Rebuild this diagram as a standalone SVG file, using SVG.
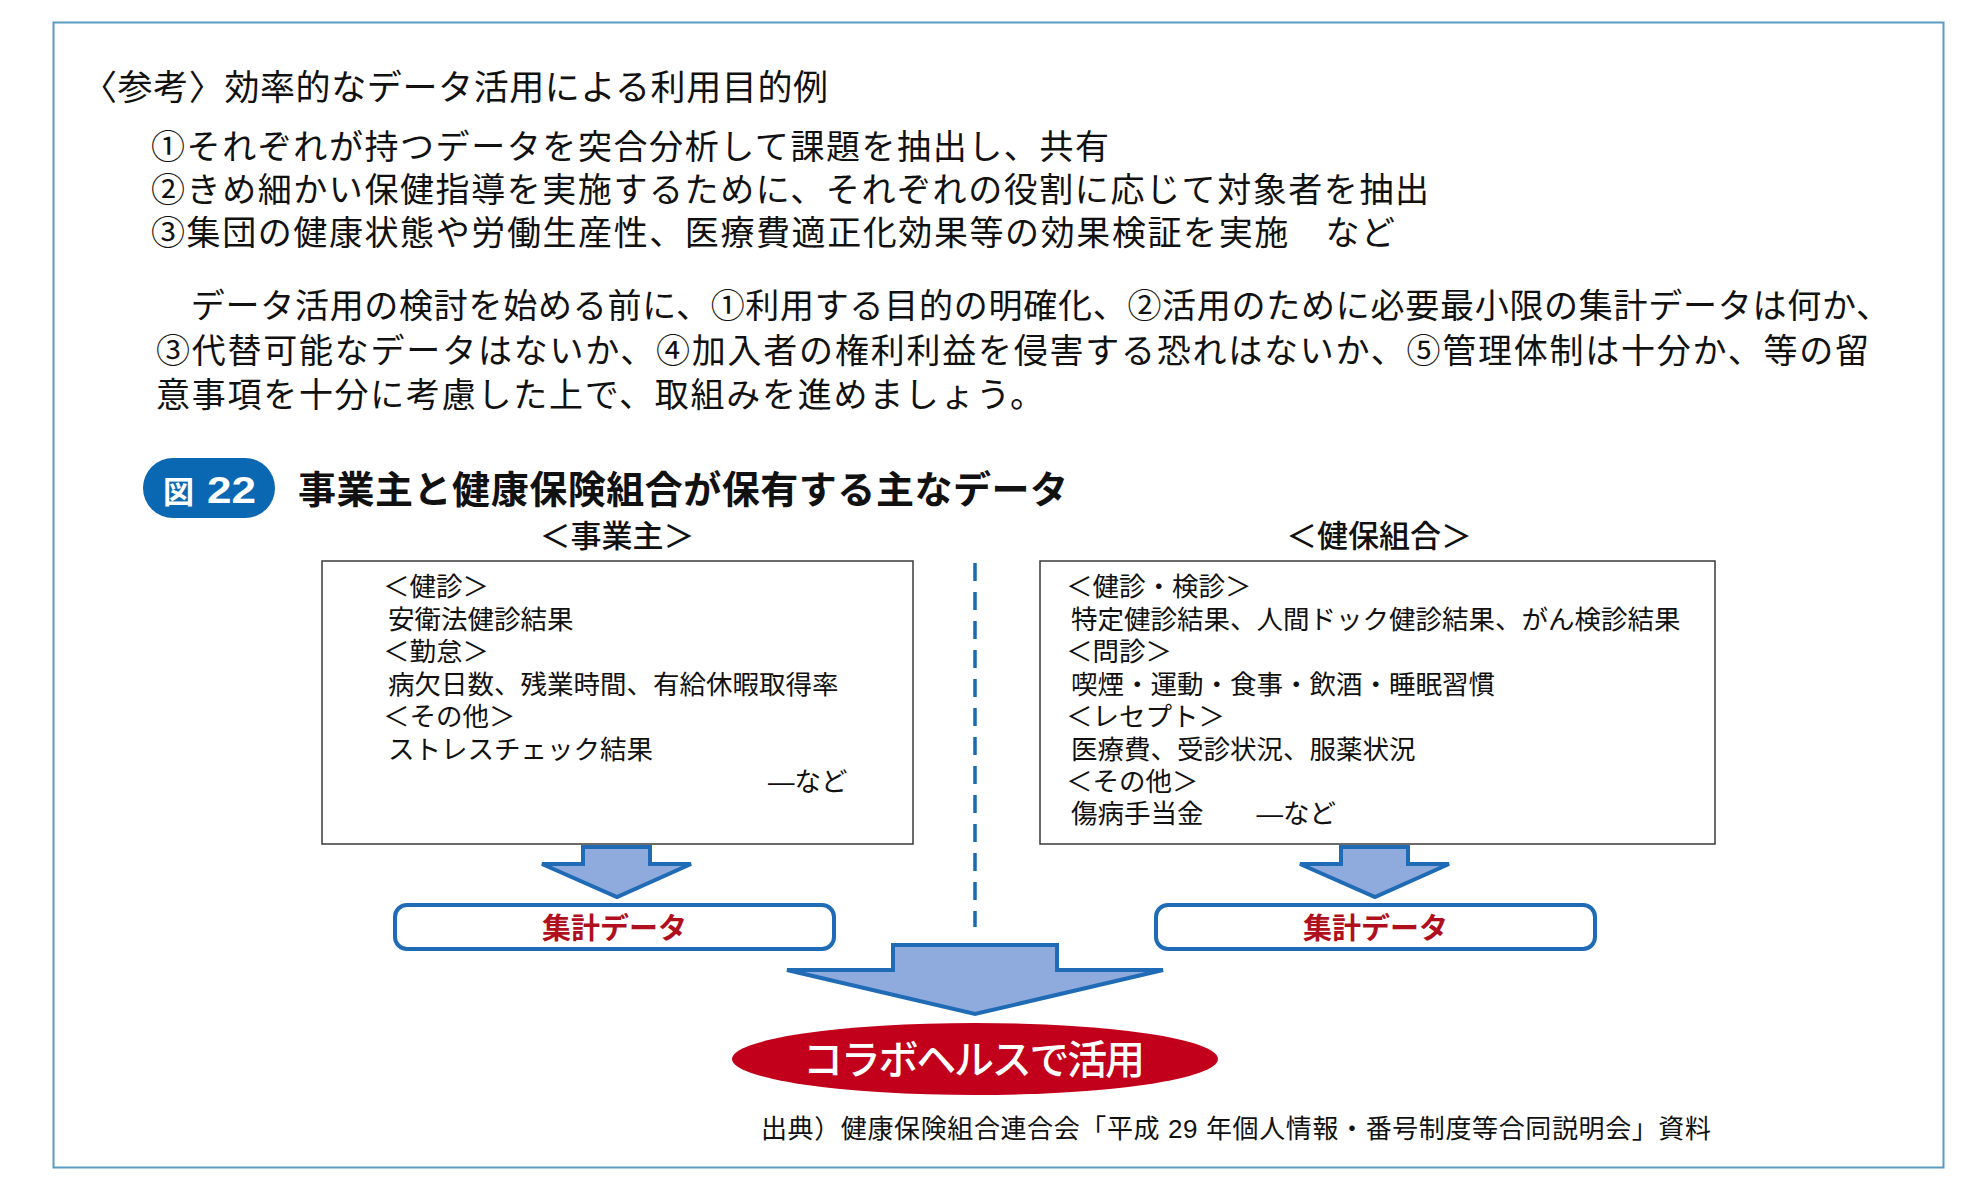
<svg xmlns="http://www.w3.org/2000/svg" width="1975" height="1188" viewBox="0 0 1975 1188">
<defs>
<style>
text{font-family:'Liberation Sans','Noto Sans CJK JP',sans-serif;fill:#111;}
.t34{font-size:34px;}
.t35{font-size:35px;}
.box{fill:#fff;stroke:#3a3a3a;stroke-width:1.5;}
.bt{font-size:26.5px;}
.hd{font-size:31px;font-weight:500;}
.agg{fill:#fff;stroke:#1f6bb5;stroke-width:4;}
.aggt{font-size:29px;font-weight:bold;fill:#b0101e;}
.arr{fill:#8faadc;stroke:#1f6bb5;stroke-width:4;stroke-linejoin:miter;}
</style>
</defs>
<rect width="1975" height="1188" fill="#fff"/>
<rect x="53.5" y="22.5" width="1890" height="1145" fill="#fff" stroke="#5a9bc2" stroke-width="2"/>

<g id="intro">
<text class="t35" x="82" y="100" textLength="746" lengthAdjust="spacing">〈参考〉効率的なデータ活用による利用目的例</text>
<text class="t34" x="151" y="159" textLength="958" lengthAdjust="spacing">①それぞれが持つデータを突合分析して課題を抽出し、共有</text>
<text class="t34" x="151" y="202" textLength="1278" lengthAdjust="spacing">②きめ細かい保健指導を実施するために、それぞれの役割に応じて対象者を抽出</text>
<text class="t34" x="151" y="245" textLength="1244" lengthAdjust="spacing">③集団の健康状態や労働生産性、医療費適正化効果等の効果検証を実施　など</text>
<text class="t34" x="156" y="318" textLength="1734" lengthAdjust="spacing">　データ活用の検討を始める前に、①利用する目的の明確化、②活用のために必要最小限の集計データは何か、</text>
<text class="t34" x="156" y="363" textLength="1713" lengthAdjust="spacing">③代替可能なデータはないか、④加入者の権利利益を侵害する恐れはないか、⑤管理体制は十分か、等の留</text>
<text class="t34" x="156" y="407" textLength="888" lengthAdjust="spacing">意事項を十分に考慮した上で、取組みを進めましょう。</text>
</g>

<g id="fig-label">
<rect x="143" y="458" width="132" height="60" rx="30" fill="#0a68b2"/>
<text x="163" y="503" style="font-size:31px;font-weight:bold;fill:#fff">図</text>
<text x="207" y="503" textLength="49" lengthAdjust="spacingAndGlyphs" style="font-size:37px;font-weight:bold;fill:#fff">22</text>
</g>
<g id="fig-title">
<text x="298" y="503" textLength="770" lengthAdjust="spacing" style="font-size:38px;font-weight:bold">事業主と健康保険組合が保有する主なデータ</text>
</g>

<g id="employer">
<text class="hd" x="617" y="547" text-anchor="middle">＜事業主＞</text>
<rect class="box" x="322" y="561" width="591" height="283"/>
<text class="bt" x="383" y="596">＜健診＞</text>
<text class="bt" x="388" y="629">安衛法健診結果</text>
<text class="bt" x="383" y="661">＜勤怠＞</text>
<text class="bt" x="388" y="694">病欠日数、残業時間、有給休暇取得率</text>
<text class="bt" x="383" y="726">＜その他＞</text>
<text class="bt" x="388" y="759">ストレスチェック結果</text>
<text class="bt" x="768" y="791">—など</text>
</g>

<g id="insurer">
<text class="hd" x="1379" y="547" text-anchor="middle">＜健保組合＞</text>
<rect class="box" x="1040" y="561" width="675" height="283"/>
<text class="bt" x="1066" y="596">＜健診・検診＞</text>
<text class="bt" x="1071" y="629">特定健診結果、人間ドック健診結果、がん検診結果</text>
<text class="bt" x="1066" y="661">＜問診＞</text>
<text class="bt" x="1071" y="694">喫煙・運動・食事・飲酒・睡眠習慣</text>
<text class="bt" x="1066" y="726">＜レセプト＞</text>
<text class="bt" x="1071" y="759">医療費、受診状況、服薬状況</text>
<text class="bt" x="1066" y="791">＜その他＞</text>
<text class="bt" x="1071" y="823">傷病手当金　　—など</text>
</g>

<g id="agg-employer">
<rect class="agg" x="395" y="905" width="439" height="44" rx="12"/>
<text class="aggt" x="614.5" y="939" text-anchor="middle">集計データ</text>
</g>
<g id="agg-insurer">
<rect class="agg" x="1156" y="905" width="439" height="44" rx="12"/>
<text class="aggt" x="1375.5" y="939" text-anchor="middle">集計データ</text>
</g>

<g id="collabo">
<ellipse cx="975" cy="1059" rx="243" ry="36" fill="#c2001b"/>
<text x="803" y="1074" textLength="342" lengthAdjust="spacing" style="font-size:40px;font-weight:500;fill:#fff">コラボヘルスで活用</text>
</g>

<g id="connectors">
<line x1="975" y1="563" x2="975" y2="927" stroke="#1a6aad" stroke-width="3.5" stroke-dasharray="18 11"/>
<polygon class="arr" points="583,847 650,847 650,864 691,864 617,897 542,864 583,864"/>
<polygon class="arr" points="1341,847 1408,847 1408,864 1449,864 1375,897 1300,864 1341,864"/>
<polygon class="arr" points="893,945 1057,945 1057,970 1163,970 975,1014 787,970 893,970"/>
</g>

<g id="source">
<text x="761" y="1138" textLength="950" lengthAdjust="spacing" style="font-size:26px">出典）健康保険組合連合会「平成 29 年個人情報・番号制度等合同説明会」資料</text>
</g>
</svg>
